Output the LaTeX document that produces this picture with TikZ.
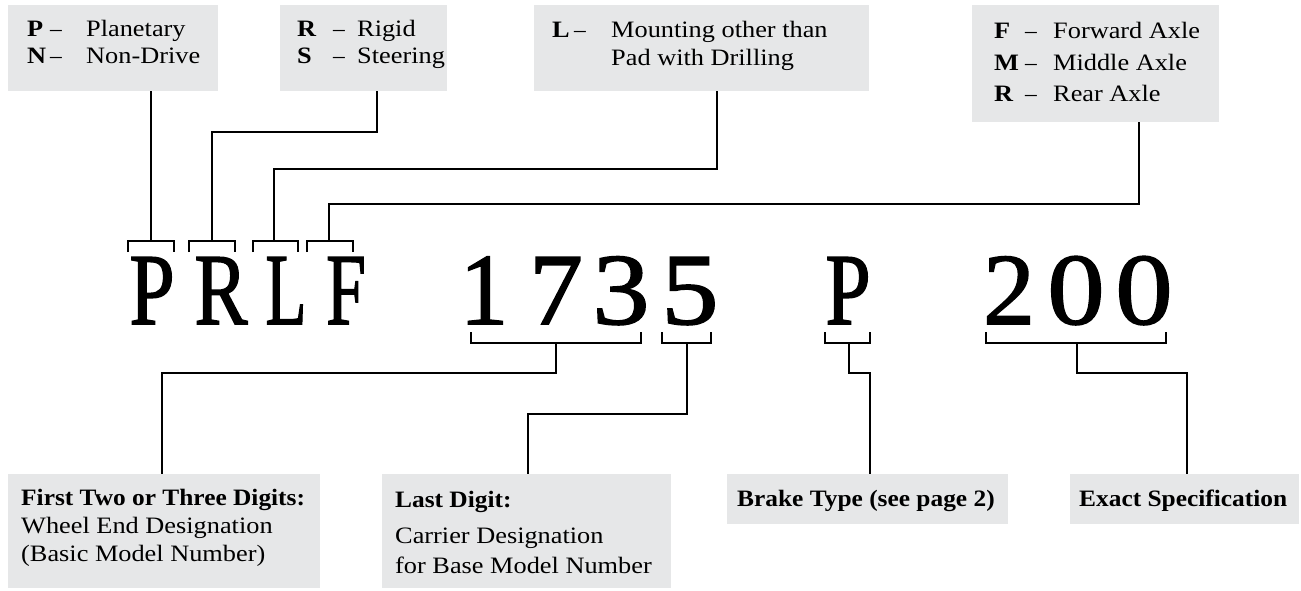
\documentclass[tikz,border=0pt]{standalone}
\usepackage{fontspec}
\setmainfont{Liberation Serif}
\newfontfamily\txt{Liberation Serif}[FakeStretch=1.12]
\newfontfamily\txtb{Liberation Serif}[FakeStretch=1.08]
\newfontfamily\bigf{Liberation Serif}[FakeBold=1.5]
\usepackage{graphicx}
\definecolor{boxgray}{RGB}{230,231,232}
\newcommand{\ent}[4]{\makebox[#1pt][l]{\bfseries #3}\makebox[#2pt][l]{\normalfont –}#4}
\newcommand{\bch}[2]{\scalebox{#1}[1]{#2}}
\begin{document}
\begin{tikzpicture}[x=1pt,y=-1pt,
  box/.style={fill=boxgray, draw=none, anchor=north west, inner sep=0pt},
  lbl/.style={anchor=base west, inner sep=0pt, font=\txt\fontsize{23.5}{27}\selectfont},
  blbl/.style={anchor=base west, inner sep=0pt, font=\txtb\bfseries\fontsize{23.5}{27}\selectfont},
  big/.style={anchor=base, inner sep=0pt, font=\bigf\fontsize{102}{110}\selectfont},
  wire/.style={line width=2pt}
]
\useasboundingbox (0,0) rectangle (1301,590);
% top boxes
\node[box, minimum width=210pt, minimum height=86pt] (B1) at (8,5) {};
\node[box, minimum width=167pt, minimum height=86pt] (B2) at (280,5) {};
\node[box, minimum width=335pt, minimum height=86pt] (B3) at (534,5) {};
\node[box, minimum width=247pt, minimum height=117pt] (B4) at (972,5) {};
% bottom boxes
\node[box, minimum width=312pt, minimum height=114pt] (C1) at (8,474) {};
\node[box, minimum width=289pt, minimum height=114pt] (C2) at (382,474) {};
\node[box, minimum width=281pt, minimum height=50pt] (C3) at (727,474) {};
\node[box, minimum width=229pt, minimum height=50pt] (C4) at (1070,474) {};
% top texts
\node[lbl] (t11) at (27,36) {\ent{23}{36}{P}{Planetary}};
\node[lbl] (t12) at (27,63) {\ent{23}{36}{N}{Non-Drive}};
\node[lbl] (t21) at (297,36) {\ent{36}{24}{R}{Rigid}};
\node[lbl] (t22) at (297,63) {\ent{36}{24}{S}{Steering}};
\node[lbl] (t31) at (552,37.5) {\ent{22}{37}{L}{Mounting other than}};
\node[lbl] (t32) at (611,65) {Pad with Drilling};
\node[lbl] (t41) at (994,38) {\ent{31}{28}{F}{Forward Axle}};
\node[lbl] (t42) at (994,70) {\ent{31}{28}{M}{Middle Axle}};
\node[lbl] (t43) at (994,101.5) {\ent{31}{28}{R}{Rear Axle}};
% bottom texts
\node[blbl] (u11) at (21,505) {First Two or Three Digits:};
\node[lbl] (u12) at (21,533) {Wheel End Designation};
\node[lbl] (u13) at (21,561) {(Basic Model Number)};
\node[blbl] (u21) at (395,507) {Last Digit:};
\node[lbl] (u22) at (395,543) {Carrier Designation};
\node[lbl] (u23) at (395,573) {for Base Model Number};
\node[blbl] (u31) at (737,506) {Brake Type (see page 2)};
\node[blbl] (u41) at (1079,506) {Exact Specification};
% big characters
\node[big] (cP) at (152,324) {\bch{0.8}{P}};
\node[big] (cR) at (221,324) {\bch{0.78}{R}};
\node[big] (cL) at (286,324) {\bch{0.66}{L}};
\node[big] (cF) at (346,324) {\bch{0.7}{F}};
\node[big] (c1) at (484,324) {\bch{0.95}{1}};
\node[big] (c7) at (556,324) {\bch{1.05}{7}};
\node[big] (c3) at (621,324) {\bch{1.12}{3}};
\node[big] (c5) at (690,324) {\bch{1.12}{5}};
\node[big] (cP2) at (848,324) {\bch{0.8}{P}};
\node[big] (c2) at (1009,324) {\bch{1.02}{2}};
\node[big] (c0a) at (1076,324) {\bch{1.12}{0}};
\node[big] (c0b) at (1144,324) {\bch{1.12}{0}};
% bracket coordinates (top)
\coordinate (sP) at (151,241);
\coordinate (sR) at (212,241);
\coordinate (sL) at (274,241);
\coordinate (sF) at (329,241);
% top brackets
\draw[wire] (128,252) -- (128,241) -- (174,241) -- (174,252);
\draw[wire] (189,252) -- (189,241) -- (235,241) -- (235,252);
\draw[wire] (253,252) -- (253,241) -- (298,241) -- (298,252);
\draw[wire] (307,252) -- (307,241) -- (353,241) -- (353,252);
% top connectors
\draw[wire] (sP) -- (sP |- B1.south);
\draw[wire] (sR) |- (377,132) -- (377,91);
\draw[wire] (sL) |- (717,169) -- (717,91);
\draw[wire] (sF) |- (1139,204) -- (1139,122);
% bottom bracket coordinates
\coordinate (s173) at (556,343);
\coordinate (s5) at (687,343);
\coordinate (sPb) at (849,343);
\coordinate (s200) at (1077,343);
\draw[wire] (471,332) -- (471,343) -- (641,343) -- (641,332);
\draw[wire] (662,332) -- (662,343) -- (711,343) -- (711,332);
\draw[wire] (825,332) -- (825,343) -- (870,343) -- (870,332);
\draw[wire] (986,332) -- (986,343) -- (1166,343) -- (1166,332);
% bottom connectors
\draw[wire] (s173) |- (162,373) -- (162,474);
\draw[wire] (s5) |- (528,414) -- (528,474);
\draw[wire] (sPb) |- (870,373) -- (870,474);
\draw[wire] (s200) |- (1187,373) -- (1187,474);
\end{tikzpicture}
\end{document}
